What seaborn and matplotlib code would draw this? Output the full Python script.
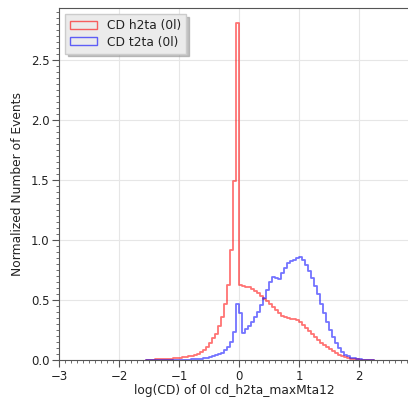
import numpy as np
import pandas as pd
import matplotlib
matplotlib.use("Agg")
import matplotlib.pyplot as plt
from matplotlib.patches import Patch
from matplotlib.ticker import MultipleLocator
import seaborn as sns

# ---- data (bin width 0.05, from -1.55 to 2.25) ----
bin_start = -1.55
bin_width = 0.05
n_bins = 76

h2ta_values = [
    # -1.55 .. -0.75
    0.003, 0.004, 0.004, 0.005, 0.006, 0.007, 0.008, 0.010,
    0.012, 0.014, 0.017, 0.020, 0.023, 0.027, 0.031, 0.036,
    # -0.75 .. 0.0
    0.040, 0.050, 0.065, 0.085, 0.110, 0.140, 0.180, 0.220,
    0.280, 0.360, 0.470, 0.625, 0.920, 1.490, 2.810,
    # 0.0 .. 0.9
    0.625, 0.620, 0.610, 0.605, 0.590, 0.575, 0.555, 0.535,
    0.510, 0.490, 0.465, 0.440, 0.415, 0.390, 0.370, 0.355,
    0.350, 0.345,
    # 0.9 .. 2.25
    0.340, 0.330, 0.315, 0.295, 0.270, 0.245, 0.220, 0.195,
    0.170, 0.145, 0.125, 0.105, 0.088, 0.072, 0.055, 0.040,
    0.030, 0.022, 0.016, 0.011, 0.008, 0.006, 0.004, 0.003,
    0.002, 0.0015, 0.001,
]

t2ta_values = [
    # -1.55 .. -1.05
    0, 0, 0, 0, 0, 0, 0, 0, 0, 0,
    # -1.05 .. 0.0
    0.001, 0.002, 0.002, 0.003, 0.004, 0.005, 0.006, 0.008,
    0.011, 0.014, 0.018, 0.025, 0.033, 0.039, 0.050, 0.061,
    0.083, 0.110, 0.153, 0.236, 0.470,
    # 0.0 .. 1.0
    0.390, 0.222, 0.255, 0.283, 0.319, 0.356, 0.403, 0.458,
    0.514, 0.583, 0.653, 0.694, 0.686, 0.672, 0.722, 0.764,
    0.806, 0.825, 0.835, 0.850,
    # 1.0 .. 2.25
    0.856, 0.830, 0.790, 0.740, 0.680, 0.620, 0.550, 0.470,
    0.390, 0.320, 0.250, 0.195, 0.145, 0.100, 0.070, 0.045,
    0.030, 0.020, 0.013, 0.009, 0.006, 0.004, 0.003, 0.002,
    0.001,
]

labels = ["CD h2ta (0l)", "CD t2ta (0l)"]
colors = ["#ff0000", "#0000ff"]

edges = bin_start + bin_width * np.arange(n_bins + 1)
centers = (edges[:-1] + edges[1:]) / 2

sns.set_style("whitegrid")
plt.rcParams["font.family"] = ["DejaVu Sans"]

fig = plt.figure(figsize=(4.08, 3.97), dpi=100)
ax = fig.add_axes([59 / 408, 37 / 397, 351 / 408, 352 / 397])

for vals, col in zip([h2ta_values, t2ta_values], colors):
    sns.histplot(x=centers, weights=np.asarray(vals, dtype=float),
                 binwidth=bin_width, binrange=(edges[0], edges[-1]),
                 element="step", fill=False, color=col, alpha=0.55,
                 linewidth=1.3, ax=ax, legend=False)

ax.set_xlim(-3, 2.85)
ax.set_ylim(0, 2.935)
ax.xaxis.set_major_locator(MultipleLocator(1))
ax.xaxis.set_minor_locator(MultipleLocator(0.1))
ax.yaxis.set_major_locator(MultipleLocator(0.5))
ax.yaxis.set_minor_locator(MultipleLocator(0.05))
ax.grid(True, which="major", color="#e6e6e6", linewidth=0.8)
ax.grid(False, which="minor")
for s in ["left", "bottom", "top"]:
    ax.spines[s].set_color("#555555")
    ax.spines[s].set_linewidth(0.8)
ax.spines["right"].set_visible(False)
ax.tick_params(axis="both", which="both", direction="out", colors="#555555",
               labelcolor="#222222", labelsize=8.5, left=True, bottom=True)
ax.tick_params(which="major", length=5, width=0.8, pad=2)
ax.tick_params(which="minor", length=2.5, width=0.6)

ax.set_xlabel("log(CD) of 0l cd_h2ta_maxMta12", fontsize=8.8, color="#222222",
              labelpad=1)
ax.set_ylabel("Normalized Number of Events", fontsize=8.8, color="#222222",
              labelpad=5)

handles = [Patch(facecolor="none", edgecolor=c, alpha=0.6, linewidth=1.0)
           for c in colors]
leg = ax.legend(handles, labels, loc="upper left", fontsize=8.8, frameon=True,
                shadow={"color": "#999999", "alpha": 0.6, "ox": 2, "oy": -2},
                fancybox=False, borderaxespad=0.5, labelspacing=0.3,
                handlelength=2.2, handleheight=0.6, handletextpad=0.8,
                borderpad=0.4)
leg.get_frame().set_facecolor("#ebebeb")
leg.get_frame().set_edgecolor("#cccccc")
leg.get_frame().set_alpha(1.0)
for t in leg.get_texts():
    t.set_color("#222222")

fig.savefig("out.png", dpi=100)
